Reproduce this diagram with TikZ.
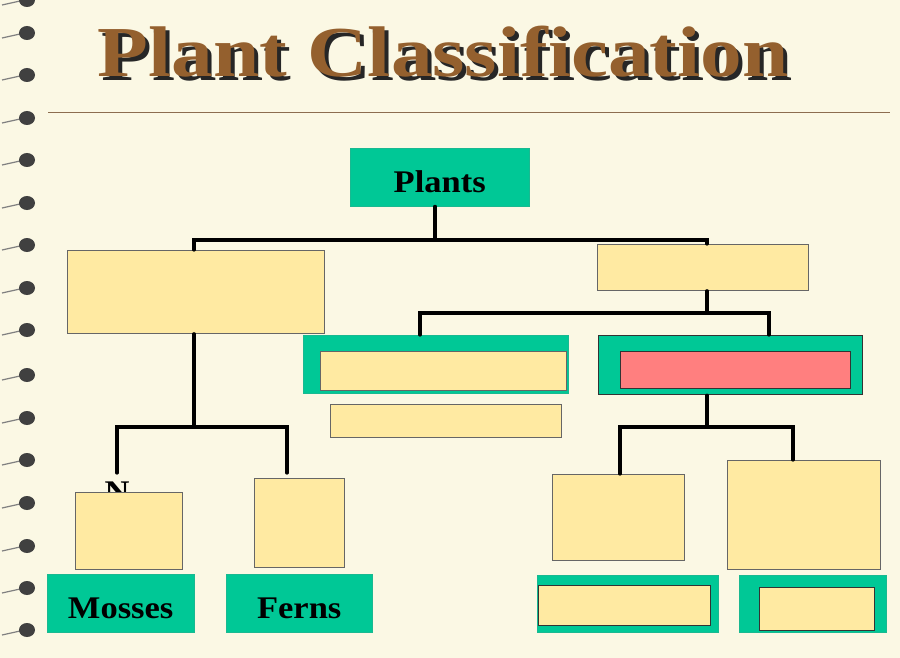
\documentclass[tikz,border=0pt]{standalone}
\usepackage{fontspec}
\setmainfont{Liberation Serif}
\begin{document}
\begin{tikzpicture}[x=1pt,y=-1pt,
  ybox/.style={draw=gray!80!black,fill=ylw,line width=0.8pt},
  gbox/.style={fill=teal1,draw=teal1!80!gray},
  lbl/.style={font=\fontsize{30}{30}\selectfont\bfseries,xscale=1.15,yscale=1.05},
  conn/.style={line width=3.2pt,line cap=round}]
\definecolor{paper}{HTML}{FBF8E4}
\definecolor{ylw}{HTML}{FFEAA2}
\definecolor{teal1}{HTML}{00C896}
\definecolor{redb}{HTML}{FF7F7F}
\definecolor{brownt}{HTML}{94602E}
\useasboundingbox (0,0) rectangle (900,658);
\fill[paper] (0,0) rectangle (900,658);
% spiral rings
\foreach \yy in {0,33,75,118,160,203,245,288,330,375,418,460,503,546,588,630}{
  \draw[gray,line width=1.2pt] (2,\yy+5) -- (20,\yy+1);
  \fill[black!75] (27,\yy) ellipse (8 and 7);
}
% title
\node[text=black!85,xscale=1.3,yscale=1.12] at (447,56) {\fontsize{64}{64}\selectfont\bfseries Plant Classification};
\node[text=brownt,xscale=1.3,yscale=1.12] (title) at (443,52) {\fontsize{64}{64}\selectfont\bfseries Plant Classification};
\draw[brownt!60!gray,line width=0.8pt] (48,112) -- (890,112);
% nodes
\node[gbox,minimum width=179,minimum height=58,anchor=north west] (plants) at (350,148) {};
\node[lbl] at ([yshift=-5]plants.center) {Plants};
\node[ybox,anchor=north west,minimum width=257,minimum height=83] (nonv) at (67,250) {};
\node[ybox,anchor=north west,minimum width=211,minimum height=46] (vasc) at (597,244) {};
\node[gbox,anchor=north west,minimum width=265,minimum height=58] (ga) at (303,335) {};
\node[ybox,anchor=north west,minimum width=246,minimum height=39] (gai) at (320,351) {};
\node[ybox,anchor=north west,minimum width=231,minimum height=33] (gab) at (330,404) {};
\node[gbox,draw=black!80,line width=1.2pt,anchor=north west,minimum width=264,minimum height=59] (gb) at (598,335) {};
\node[draw=black!80,fill=redb,line width=0.8pt,anchor=north west,minimum width=230,minimum height=37] (gbi) at (620,351) {};
\node[ybox,anchor=north west,minimum width=132,minimum height=86] (r1) at (552,474) {};
\node[ybox,anchor=north west,minimum width=153,minimum height=109] (r2) at (727,460) {};
\node[gbox,anchor=north west,minimum width=181,minimum height=57] (g1) at (537,575) {};
\node[ybox,draw=black!80,anchor=north west,minimum width=172,minimum height=40] (g1i) at (538,585) {};
\node[gbox,anchor=north west,minimum width=147,minimum height=57] (g2) at (739,575) {};
\node[ybox,draw=black!80,anchor=north west,minimum width=115,minimum height=43] (g2i) at (759,587) {};
\node[lbl,anchor=north] (nlab) at (117,478) {N};
\node[ybox,anchor=north west,minimum width=107,minimum height=77] (l1) at (75,492) {};
\node[ybox,anchor=north west,minimum width=90,minimum height=89] (l2) at (254,478) {};
\node[gbox,anchor=north west,minimum width=147,minimum height=58] (moss) at (47,574) {};
\node[lbl] at ([yshift=-5]moss.center) {Mosses};
\node[gbox,anchor=north west,minimum width=146,minimum height=58] (fern) at (226,574) {};
\node[lbl] at ([yshift=-5]fern.center) {Ferns};
% connectors
\coordinate (j1) at (435,240);
\coordinate (j2) at (707,313);
\coordinate (j3) at (707,427);
\coordinate (j4) at (194,427);
\draw[conn] (plants.south -| j1) -- (j1);
\draw[conn] (194,250) |- (j1) -| (707,244);
\draw[conn] (vasc.south -| j2) -- (j2);
\draw[conn] (420,335) |- (j2) -| (769,335);
\draw[conn] (gb.south -| j3) -- (j3);
\draw[conn] (620,474) |- (j3) -| (793,460);
\draw[conn] (nonv.south -| j4) -- (j4);
\draw[conn] (117,473) |- (j4) -| (287,473);
\end{tikzpicture}
\end{document}
